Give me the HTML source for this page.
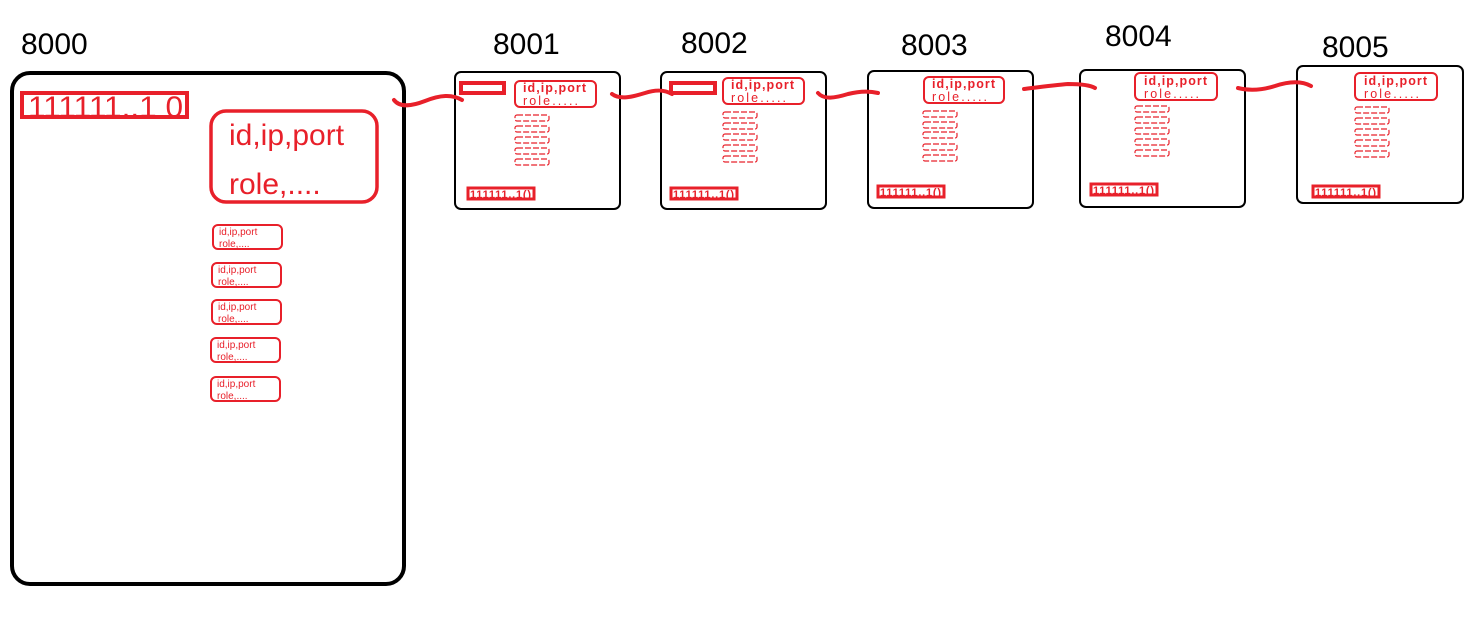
<!DOCTYPE html>
<html><head><meta charset="utf-8"><style>
html,body{margin:0;padding:0;background:#fff;}
svg{display:block;}
text{font-family:"Liberation Sans",sans-serif;}
</style></head><body>
<svg width="1478" height="629" viewBox="0 0 1478 629" xmlns="http://www.w3.org/2000/svg">
<defs>
<g id="sm">
  <rect x="0" y="0" width="34" height="6" rx="2" fill="none" stroke="#e8202a" stroke-width="1.2" stroke-dasharray="6 2"/>
</g>
<g id="node">
  <rect x="0" y="0" width="165" height="137" rx="6" fill="#fff" stroke="#000" stroke-width="2"/>
</g>
</defs>

<!-- labels -->
<g font-size="30" fill="#000">
<text x="21" y="54">8000</text>
<text x="493" y="54">8001</text>
<text x="681" y="53">8002</text>
<text x="901" y="55">8003</text>
<text x="1105" y="46">8004</text>
<text x="1322" y="57">8005</text>
</g>

<!-- big node -->
<rect x="12" y="73" width="392" height="511" rx="18" fill="#fff" stroke="#000" stroke-width="4"/>
<rect x="22" y="93" width="165" height="24" fill="none" stroke="#e8202a" stroke-width="4"/>
<text x="28" y="117" font-size="30" fill="#e8202a" textLength="155" lengthAdjust="spacingAndGlyphs">111111..1 0</text>
<rect x="211" y="111" width="166" height="91" rx="15" fill="none" stroke="#e8202a" stroke-width="3.5"/>
<text x="229" y="145" font-size="30" fill="#e8202a">id,ip,port</text>
<text x="229" y="194" font-size="30" fill="#e8202a">role,....</text>
<g fill="none" stroke="#e8202a" stroke-width="2">
<rect x="213" y="225" width="69" height="24" rx="5"/>
<rect x="212" y="263" width="69" height="24" rx="5"/>
<rect x="212" y="300" width="69" height="24" rx="5"/>
<rect x="211" y="338" width="69" height="24" rx="5"/>
<rect x="211" y="377" width="69" height="24" rx="5"/>
</g>
<g font-size="10" fill="#e8202a">
<text x="219" y="235">id,ip,port</text><text x="219" y="247">role,....</text>
<text x="218" y="273">id,ip,port</text><text x="218" y="285">role,....</text>
<text x="218" y="310">id,ip,port</text><text x="218" y="322">role,....</text>
<text x="217" y="348">id,ip,port</text><text x="217" y="360">role,....</text>
<text x="217" y="387">id,ip,port</text><text x="217" y="399">role,....</text>
</g>

<!-- 8001 -->
<g transform="translate(455,72)">
  <use href="#node"/>
  <rect x="6" y="11" width="43" height="10" fill="none" stroke="#e8202a" stroke-width="4"/>
  <rect x="60" y="9" width="81" height="26" rx="5" fill="none" stroke="#e8202a" stroke-width="2"/>
  <text x="68" y="20" font-size="12.5" font-weight="bold" fill="#e8202a" textLength="63">id,ip,port</text>
  <text x="68" y="33" font-size="12.5" fill="#e8202a" textLength="55">role.....</text>
  <use href="#sm" x="60" y="43"/><use href="#sm" x="60" y="54"/><use href="#sm" x="60" y="65"/><use href="#sm" x="60" y="76"/><use href="#sm" x="60" y="87"/>
  <rect x="13" y="116" width="66" height="11" fill="none" stroke="#e8202a" stroke-width="3"/>
  <text x="15" y="126" font-size="11" font-weight="bold" fill="#e8202a" textLength="61">111111..1()</text>
</g>
<!-- 8002 -->
<g transform="translate(661,72)">
  <use href="#node"/>
  <rect x="10" y="11" width="44" height="10" fill="none" stroke="#e8202a" stroke-width="4"/>
  <rect x="62" y="6" width="81" height="26" rx="5" fill="none" stroke="#e8202a" stroke-width="2"/>
  <text x="70" y="17" font-size="12.5" font-weight="bold" fill="#e8202a" textLength="63">id,ip,port</text>
  <text x="70" y="30" font-size="12.5" fill="#e8202a" textLength="55">role.....</text>
  <use href="#sm" x="62" y="40"/><use href="#sm" x="62" y="51"/><use href="#sm" x="62" y="62"/><use href="#sm" x="62" y="73"/><use href="#sm" x="62" y="84"/>
  <rect x="10" y="116" width="66" height="11" fill="none" stroke="#e8202a" stroke-width="3"/>
  <text x="12" y="126" font-size="11" font-weight="bold" fill="#e8202a" textLength="61">111111..1()</text>
</g>
<!-- 8003 -->
<g transform="translate(868,71)">
  <use href="#node"/>
  <rect x="56" y="6" width="80" height="26" rx="5" fill="none" stroke="#e8202a" stroke-width="2"/>
  <text x="64" y="17" font-size="12.5" font-weight="bold" fill="#e8202a" textLength="63">id,ip,port</text>
  <text x="64" y="30" font-size="12.5" fill="#e8202a" textLength="55">role.....</text>
  <use href="#sm" x="55" y="40"/><use href="#sm" x="55" y="51"/><use href="#sm" x="55" y="61"/><use href="#sm" x="55" y="73"/><use href="#sm" x="55" y="84"/>
  <rect x="10" y="115" width="66" height="11" fill="none" stroke="#e8202a" stroke-width="3"/>
  <text x="12" y="125" font-size="11" font-weight="bold" fill="#e8202a" textLength="61">111111..1()</text>
</g>
<!-- 8004 -->
<g transform="translate(1080,70)">
  <use href="#node"/>
  <rect x="55" y="3" width="82" height="27" rx="5" fill="none" stroke="#e8202a" stroke-width="2"/>
  <text x="64" y="15" font-size="12.5" font-weight="bold" fill="#e8202a" textLength="63">id,ip,port</text>
  <text x="64" y="28" font-size="12.5" fill="#e8202a" textLength="55">role.....</text>
  <use href="#sm" x="55" y="36"/><use href="#sm" x="55" y="47"/><use href="#sm" x="55" y="58"/><use href="#sm" x="55" y="69"/><use href="#sm" x="55" y="80"/>
  <rect x="11" y="114" width="66" height="11" fill="none" stroke="#e8202a" stroke-width="3"/>
  <text x="13" y="124" font-size="11" font-weight="bold" fill="#e8202a" textLength="61">111111..1()</text>
</g>
<!-- 8005 -->
<g transform="translate(1297,66)">
  <use href="#node" transform="scale(1.006,1)"/>
  <rect x="58" y="7" width="82" height="27" rx="5" fill="none" stroke="#e8202a" stroke-width="2"/>
  <text x="67" y="19" font-size="12.5" font-weight="bold" fill="#e8202a" textLength="63">id,ip,port</text>
  <text x="67" y="32" font-size="12.5" fill="#e8202a" textLength="55">role.....</text>
  <use href="#sm" x="58" y="41"/><use href="#sm" x="58" y="52"/><use href="#sm" x="58" y="63"/><use href="#sm" x="58" y="74"/><use href="#sm" x="58" y="85"/>
  <rect x="16" y="120" width="66" height="11" fill="none" stroke="#e8202a" stroke-width="3"/>
  <text x="18" y="130" font-size="11" font-weight="bold" fill="#e8202a" textLength="61">111111..1()</text>
</g>

<!-- connectors -->
<g fill="none" stroke="#e8202a" stroke-width="4" stroke-linecap="round">
<path d="M394,100 C400,108 412,106 425,101 C440,95 452,94 462,100"/>
<path d="M612,94 C620,100 632,97 645,93 C657,89 665,90 672,94"/>
<path d="M818,93 C824,100 835,98 848,94 C860,91 870,91 878,93"/>
<path d="M1024,89 C1040,87 1055,85 1068,84 C1080,84 1090,85 1095,88"/>
<path d="M1238,88 C1250,91 1262,90 1275,86 C1290,81 1302,81 1311,86"/>
</g>
</svg>
</body></html>
